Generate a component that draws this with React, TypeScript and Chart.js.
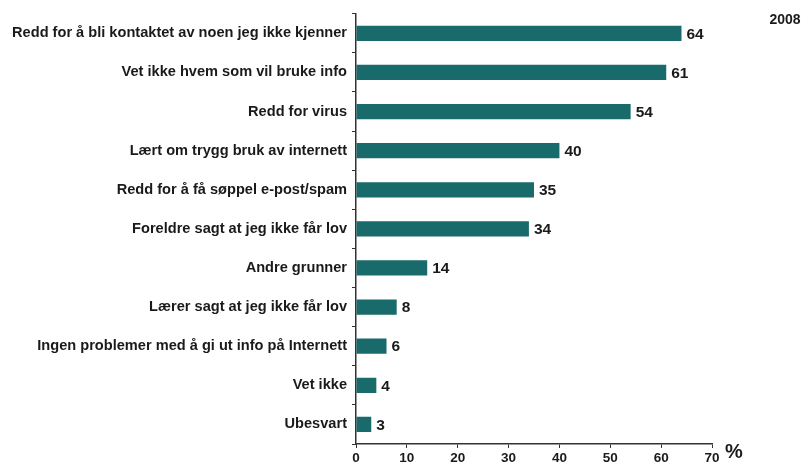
import React, { useEffect, useRef } from "react";
import { Chart, registerables } from "chart.js";
Chart.register(...registerables);

const categories = [
  "Redd for å bli kontaktet av noen jeg ikke kjenner",
  "Vet ikke hvem som vil bruke info",
  "Redd for virus",
  "Lært om trygg bruk av internett",
  "Redd for å få søppel e-post/spam",
  "Foreldre sagt at jeg ikke får lov",
  "Andre grunner",
  "Lærer sagt at jeg ikke får lov",
  "Ingen problemer med å gi ut info på Internett",
  "Vet ikke",
  "Ubesvart",
];
const values = [64, 61, 54, 40, 35, 34, 14, 8, 6, 4, 3];
const xTicks = [0, 10, 20, 30, 40, 50, 60, 70];
const yearLabel = "2008";
const unitLabel = "%";

const FONT = "'Liberation Sans', Arial, sans-serif";
const BAR = "#196b6b";
const TEXT = "#1a1a1a";

const labelsPlugin = {
  id: "extraLabels",
  afterDatasetsDraw(chart: any) {
    const ctx = chart.ctx;
    const meta = chart.getDatasetMeta(0);
    ctx.save();
    ctx.fillStyle = TEXT;
    ctx.font = `bold 15.5px ${FONT}`;
    ctx.textBaseline = "middle";
    ctx.textAlign = "left";
    meta.data.forEach((bar: any, i: number) => {
      ctx.fillText(String(values[i]), bar.x + 5, bar.y + 1);
    });
    const ca = chart.chartArea;
    ctx.font = `bold 14px ${FONT}`;
    ctx.textAlign = "center";
    ctx.fillText(yearLabel, 785, 20);
    ctx.font = `bold 20px ${FONT}`;
    ctx.textAlign = "left";
    ctx.fillText(unitLabel, ca.right + 13, ca.bottom + 8);
    ctx.restore();
  },
};

export default function App() {
  const ref = useRef<HTMLCanvasElement>(null);
  useEffect(() => {
    const chart = new Chart(ref.current!, {
      type: "bar",
      data: {
        labels: categories,
        datasets: [
          {
            data: values,
            backgroundColor: BAR,
            borderWidth: 0,
            barPercentage: 0.39,
            categoryPercentage: 1,
          },
        ],
      },
      options: {
        indexAxis: "y",
        animation: false,
        responsive: false,
        maintainAspectRatio: false,
        layout: { padding: { top: 10, right: 94, left: 0, bottom: 0 } },
        plugins: {
          legend: { display: false },
          tooltip: { enabled: false },
        },
        scales: {
          x: {
            min: 0,
            max: 70,
            afterBuildTicks: (s: any) => {
              s.ticks = xTicks.map((v) => ({ value: v }));
            },
            afterFit: (s: any) => {
              s.height = 24;
            },
            border: { color: "#333", width: 1.5 },
            grid: { drawOnChartArea: false, tickLength: 4, color: "#333" },
            ticks: {
              color: TEXT,
              padding: 2,
              font: { family: FONT, size: 13.5, weight: "bold" },
            },
          },
          y: {
            afterFit: (s: any) => {
              s.width = 356;
            },
            border: { color: "#333", width: 1.5 },
            grid: {
              drawOnChartArea: false,
              offset: true,
              tickLength: 4,
              color: "#333",
            },
            ticks: {
              color: TEXT,
              padding: 5,
              font: { family: FONT, size: 14.6, weight: "bold" },
            },
          },
        },
      },
      plugins: [labelsPlugin],
    });
    return () => chart.destroy();
  }, []);
  return (
    <div style={{ position: "fixed", left: 0, top: 0, width: 806, height: 468, background: "#fff" }}>
      <canvas ref={ref} width={806} height={468} style={{ display: "block" }} />
    </div>
  );
}
